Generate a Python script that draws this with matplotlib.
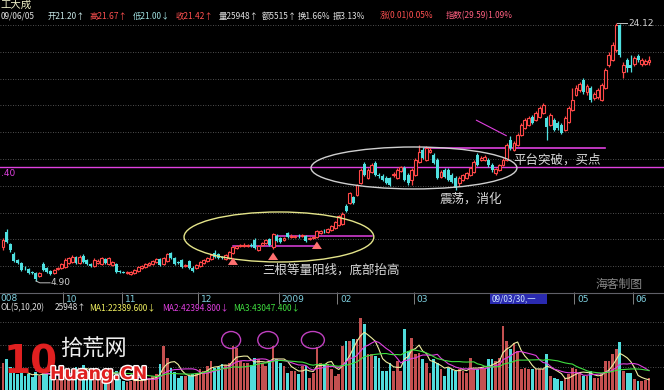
import numpy as np
import pandas as pd
import matplotlib
matplotlib.use("Agg")
import matplotlib.pyplot as plt
import matplotlib.patheffects as pe
from matplotlib.patches import Ellipse, Rectangle
from matplotlib.lines import Line2D

plt.rcParams['font.family'] = ['Noto Sans CJK SC', 'DejaVu Sans']

# daily bars, 2008/09 .. 2009/06/05
opens = [
    7.43, 8.55, 7.66, 6.91, 6.46, 6.24, 5.87, 5.79, 5.57, 5.49,
    5.27, 6.16, 5.87, 5.64, 5.49, 5.79, 5.87, 5.94, 6.24, 6.31,
    6.69, 6.24, 6.76, 6.46, 6.16, 6.02, 6.24, 6.16, 6.54, 6.16,
    6.09, 6.16, 5.64, 5.57, 5.49, 5.42, 5.49, 5.64, 5.87, 5.94,
    6.09, 6.16, 6.31, 6.54, 6.16, 6.39, 6.99, 6.61, 6.31, 6.46,
    6.02, 6.39, 5.87, 5.87, 6.02, 6.24, 6.39, 6.54, 6.99, 6.91,
    6.69, 6.54, 6.61, 6.99, 7.36, 7.51, 7.51, 7.51, 7.58, 7.96,
    7.21, 7.58, 7.73, 8.03, 7.43, 8.25, 8.10, 7.96, 8.48, 8.18,
    8.18, 8.25, 8.25, 8.25, 8.03, 8.10, 8.18, 8.48, 8.63, 8.55,
    8.70, 8.85, 9.08, 9.15, 10.49, 10.72, 11.17, 11.31, 12.21, 13.63,
    12.58, 13.03, 13.70, 12.81, 12.73, 12.58, 12.58, 12.81, 12.58, 13.10,
    13.33, 12.81, 12.43, 12.81, 13.78, 14.67, 13.93, 14.52, 14.30, 13.93,
    12.66, 13.18, 13.18, 12.81, 12.58, 12.21, 12.43, 12.58, 12.81, 13.03,
    14.30, 13.93, 13.93, 13.93, 13.55, 12.96, 13.18, 13.55, 13.93, 15.42,
    14.67, 15.04, 15.79, 16.31, 16.54, 17.13, 16.91, 17.13, 17.43, 17.06,
    16.54, 16.91, 16.69, 16.54, 16.16, 16.76, 17.66, 18.78, 19.15, 19.90,
    19.00, 19.30, 18.55, 18.63, 18.40, 19.30, 21.02, 21.39, 22.13, 24.00,
    20.49, 21.39, 21.02, 21.09, 21.69, 21.09, 21.09, 21.20]
closes = [
    7.96, 7.81, 7.21, 6.39, 6.24, 5.72, 5.84, 5.49, 5.49, 5.05,
    5.49, 5.72, 5.57, 5.42, 5.72, 5.87, 6.16, 6.46, 6.61, 6.69,
    6.24, 6.69, 6.31, 6.16, 6.02, 6.46, 6.39, 6.61, 6.24, 6.61,
    6.31, 5.57, 5.57, 5.53, 5.57, 5.57, 5.72, 5.94, 6.02, 6.16,
    6.24, 6.39, 6.54, 6.09, 6.61, 6.91, 6.61, 6.16, 6.24, 5.94,
    6.09, 5.87, 5.64, 6.09, 6.31, 6.46, 6.61, 6.84, 6.69, 6.61,
    6.61, 6.84, 7.06, 7.43, 7.51, 7.58, 7.58, 7.58, 7.51, 7.36,
    7.51, 7.73, 7.96, 7.58, 8.40, 7.88, 7.81, 8.10, 8.18, 8.25,
    8.25, 8.22, 8.33, 7.88, 8.10, 8.18, 8.63, 8.63, 8.59, 8.78,
    9.00, 9.30, 9.75, 9.90, 10.12, 11.46, 10.72, 12.06, 13.18, 12.81,
    13.18, 13.55, 12.81, 12.73, 12.43, 12.21, 12.06, 12.88, 13.18, 13.40,
    12.43, 12.21, 13.18, 13.93, 14.52, 14.07, 14.82, 14.67, 13.70, 12.58,
    13.03, 12.66, 12.43, 12.28, 11.84, 12.58, 12.81, 12.96, 13.33, 13.78,
    13.55, 14.07, 14.15, 13.55, 13.18, 13.25, 13.55, 13.93, 15.04, 14.82,
    15.19, 15.79, 16.54, 16.91, 17.06, 16.69, 17.43, 17.81, 18.03, 16.39,
    17.28, 16.16, 16.31, 15.94, 17.06, 17.81, 18.40, 19.30, 19.60, 19.00,
    19.45, 18.40, 18.85, 19.15, 19.52, 20.64, 21.76, 22.51, 24.00, 21.76,
    21.02, 20.79, 20.79, 21.54, 21.39, 21.39, 21.31, 21.42]
highs = [
    8.10, 8.78, 7.73, 7.06, 6.54, 6.31, 6.02, 5.87, 5.64, 5.57,
    5.57, 6.31, 5.94, 5.72, 5.79, 5.94, 6.24, 6.61, 6.69, 6.84,
    6.76, 6.84, 6.91, 6.54, 6.24, 6.61, 6.54, 6.69, 6.61, 6.69,
    6.39, 6.24, 5.72, 5.64, 5.64, 5.64, 5.79, 6.02, 6.09, 6.24,
    6.31, 6.46, 6.61, 6.61, 6.69, 6.99, 7.06, 6.69, 6.39, 6.54,
    6.16, 6.46, 6.02, 6.16, 6.39, 6.54, 6.69, 6.91, 7.21, 6.99,
    6.76, 6.91, 7.13, 7.51, 7.58, 7.66, 7.73, 7.66, 7.73, 8.10,
    7.58, 7.81, 8.03, 8.10, 8.48, 8.40, 8.18, 8.18, 8.55, 8.40,
    8.33, 8.40, 8.40, 8.33, 8.18, 8.25, 8.70, 8.70, 8.78, 8.85,
    9.08, 9.37, 9.82, 10.04, 10.64, 11.54, 11.24, 12.13, 13.33, 13.78,
    13.33, 13.70, 13.85, 12.96, 12.88, 12.73, 12.66, 13.03, 13.33, 13.48,
    13.48, 12.96, 13.33, 14.07, 15.04, 14.90, 14.97, 14.90, 14.45, 14.07,
    13.18, 13.33, 13.33, 12.96, 12.73, 12.73, 12.88, 13.03, 13.40, 13.93,
    14.45, 14.22, 14.30, 14.07, 13.70, 13.33, 13.63, 14.07, 15.19, 15.72,
    15.34, 15.94, 16.69, 17.06, 17.21, 17.28, 17.58, 17.96, 18.18, 17.21,
    17.43, 17.06, 16.84, 16.69, 17.21, 17.96, 19.30, 19.52, 19.75, 20.05,
    19.60, 19.45, 19.00, 19.30, 19.67, 20.79, 21.99, 22.73, 24.12, 24.05,
    21.24, 21.54, 21.76, 21.69, 21.84, 21.54, 21.46, 21.67]
lows = [
    7.21, 7.73, 7.06, 6.31, 6.16, 5.64, 5.72, 5.42, 5.42, 4.90,
    5.20, 5.64, 5.49, 5.34, 5.42, 5.72, 5.79, 5.87, 6.16, 6.24,
    6.16, 6.16, 6.24, 6.09, 5.94, 5.94, 6.16, 6.09, 6.16, 6.09,
    6.02, 5.49, 5.49, 5.49, 5.42, 5.34, 5.42, 5.57, 5.79, 5.87,
    6.02, 6.09, 6.24, 6.02, 6.09, 6.31, 6.54, 6.09, 6.16, 5.87,
    5.94, 5.79, 5.57, 5.79, 5.94, 6.16, 6.31, 6.46, 6.61, 6.54,
    6.54, 6.46, 6.54, 6.91, 7.28, 7.43, 7.43, 7.43, 7.43, 7.28,
    7.13, 7.51, 7.66, 7.51, 7.28, 7.81, 7.73, 7.88, 8.10, 8.10,
    8.10, 8.10, 8.18, 7.81, 7.96, 8.03, 8.10, 8.40, 8.48, 8.48,
    8.63, 8.78, 9.00, 9.08, 10.04, 10.64, 10.64, 11.24, 12.13, 12.73,
    12.51, 12.96, 12.73, 12.58, 12.36, 12.13, 11.99, 12.66, 12.51, 13.03,
    12.36, 12.06, 12.06, 12.73, 13.70, 14.00, 13.85, 14.45, 13.63, 12.51,
    12.58, 12.58, 12.36, 12.21, 11.69, 11.99, 12.36, 12.51, 12.73, 12.96,
    13.48, 13.85, 13.85, 13.40, 13.03, 12.81, 13.10, 13.48, 13.85, 14.67,
    14.60, 14.97, 15.72, 16.24, 16.46, 16.61, 16.84, 17.06, 17.36, 15.42,
    16.46, 16.09, 16.16, 15.87, 16.09, 16.69, 17.58, 18.70, 19.00, 18.85,
    18.78, 18.25, 18.40, 18.48, 18.33, 19.22, 20.87, 21.31, 21.99, 21.61,
    20.05, 20.49, 20.49, 20.94, 21.24, 20.94, 21.02, 21.00]
volumes = [
    60000, 68000, 50000, 45000, 35000, 40000, 30000, 35000, 28000, 40000,
    30000, 45000, 35000, 30000, 28000, 25000, 32000, 45000, 40000, 42000,
    50000, 48000, 55000, 40000, 30000, 38000, 32000, 36000, 40000, 38000,
    30000, 42000, 25000, 20000, 18000, 20000, 22000, 24000, 22000, 24000,
    26000, 30000, 35000, 57000, 97000, 70000, 48000, 40000, 26000, 31000,
    30000, 31000, 35000, 37000, 46000, 42000, 53000, 64000, 48000, 50000,
    57000, 55000, 60000, 97000, 92000, 64000, 60000, 59000, 55000, 70000,
    68000, 60000, 53000, 64000, 97000, 68000, 59000, 53000, 37000, 42000,
    42000, 35000, 53000, 53000, 26000, 37000, 95000, 59000, 57000, 57000,
    46000, 30000, 35000, 97000, 108000, 108000, 112000, 112000, 158000, 145000,
    79000, 79000, 75000, 70000, 42000, 42000, 59000, 42000, 64000, 42000,
    134000, 86000, 114000, 79000, 81000, 68000, 59000, 37000, 68000, 59000,
    46000, 31000, 48000, 46000, 42000, 46000, 42000, 37000, 70000, 46000,
    46000, 48000, 46000, 68000, 68000, 64000, 70000, 141000, 108000, 90000,
    103000, 86000, 46000, 48000, 46000, 46000, 46000, 46000, 46000, 79000,
    31000, 26000, 24000, 20000, 26000, 35000, 48000, 46000, 37000, 31000,
    31000, 42000, 26000, 26000, 37000, 64000, 64000, 79000, 90000, 106000,
    42000, 37000, 37000, 24000, 20000, 20000, 22000, 25948]

month_start = [17, 33, 54, 76, 92, 113, 157, 173]
month_labels = ['10', '11', '12', '2009', '02', '03', '05', '06']
platform_price = 13.40
breakout_price = 14.82
bottom_levels = [7.51, 8.25]
arrow_days = [63, 74, 86]

W, H = 664, 390
RED, CYAN, MAG = '#ff4848', '#4fe0e0', '#e040e0'


def fx(x):
    return x / W


def fy(y):
    return 1 - y / H


o = np.array(opens)
c = np.array(closes)
hi = np.array(highs)
lo = np.array(lows)
vol = np.array(volumes, dtype=float)
idx = np.arange(len(c))
up = c >= o
XL = (-0.82, 181.1)

fig = plt.figure(figsize=(6.64, 3.90), dpi=100, facecolor='black')

# ---- price panel
ax = fig.add_axes([0, fy(291), 1, (291 - 20) / H])
ax.set_facecolor('black')
ax.set_xlim(*XL)
ax.set_ylim(4.15, 24.37)
ax.axis('off')
for p in range(6, 25, 2):
    ax.axhline(p, color='#6a6a6a', lw=0.6, ls=(0, (1, 2)), zorder=0)

ax.vlines(idx, lo, hi, colors=np.where(up, RED, CYAN), lw=0.9, zorder=2)
bot = np.minimum(o, c)
hgt = np.maximum(np.abs(c - o), 0.05)
ax.bar(idx[up], hgt[up], bottom=bot[up], width=0.8, facecolor='black',
       edgecolor=RED, lw=0.8, zorder=3)
ax.bar(idx[~up], hgt[~up], bottom=bot[~up], width=0.8, color=CYAN, zorder=3)

ax.add_patch(Ellipse((75.6, 8.18), 52, 3.73, fill=False, ec='#e4e48a', lw=1.0, zorder=4))
ax.add_patch(Ellipse((112.6, 13.33), 56.4, 3.13, fill=False, ec='#cfcfcf', lw=1.0, zorder=4))
ax.axhline(platform_price, color=MAG, lw=1.0, zorder=1)
ax.plot([115.6, 165], [breakout_price] * 2, color=MAG, lw=1.2, zorder=1)
ax.annotate('', xy=(138.6, 15.64), xytext=(129, 16.99),
            arrowprops=dict(arrowstyle='-', color=MAG, lw=0.8))
ax.plot([63, 86.3], [bottom_levels[0]] * 2, color=MAG, lw=1.1, zorder=1)
ax.plot([74, 101], [bottom_levels[1]] * 2, color=MAG, lw=1.1, zorder=1)
for d in arrow_days:
    ax.annotate('', xy=(d, lo[d] - 0.05), xytext=(d, lo[d] - 0.85),
                arrowprops=dict(arrowstyle='simple,head_width=0.8,head_length=0.6,tail_width=0.35',
                                color='#ff7070', lw=0, mutation_scale=9), zorder=5)

txt = dict(color='#d8d8d8', fontsize=9, va='center', ha='left')
ax.text(71, 5.72, '三根等量阳线，底部抬高', **txt)
ax.text(119.7, 11.01, '震荡，消化', **txt)
ax.text(139.7, 13.93, '平台突破，买点', **txt)

imax, imin = int(np.argmax(hi)), int(np.argmin(lo))
ax.plot([imax + 0.2, imax + 3], [hi[imax]] * 2, color='#c0c0c0', lw=0.7)
ax.text(imax + 3.2, hi[imax], '%.2f' % hi[imax], color='#d0d0d0', fontsize=6.5,
        va='center', family='DejaVu Sans')
ax.plot([imin, imin + 1.1, imin + 3.9], [lo[imin], lo[imin] - 0.14, lo[imin] - 0.14],
        color='#c0c0c0', lw=0.7)
ax.text(imin + 4.1, lo[imin] - 0.14, '%.2f' % lo[imin], color='#d0d0d0', fontsize=6.5,
        va='center', family='DejaVu Sans')

# left edge labels show only the visible part, as in the source screenshot
fig.text(fx(0.5), fy(173), ('%.2f' % platform_price)[2:], ha='left', va='center', color=MAG,
         fontsize=6.5, family='DejaVu Sans')
fig.text(fx(595), fy(284), '海客制图', color='#8a8a8a', fontsize=8.5, va='center')

# ---- date row
axd = fig.add_axes([0, fy(305), 1, 13 / H])
axd.set_facecolor('black')
axd.set_xlim(*XL)
axd.set_ylim(0, 1)
axd.axis('off')
fig.add_artist(Line2D([0, 1], [fy(292.5)] * 2, transform=fig.transFigure, color='#606068', lw=0.8))
fig.text(fx(0.5), fy(298.5), '008', color='#7fd0e0', fontsize=6.5, va='center', family='DejaVu Sans')
for m, lab in zip(month_start, month_labels):
    axd.vlines(m - 0.5, 0.1, 1.0, color='#808080', lw=0.7)
    axd.text(m + 0.3, 0.45, lab, color='#7fd0e0', fontsize=6.5, va='center', family='DejaVu Sans')
axd.add_patch(Rectangle((fx(490), fy(304)), fx(57), 11 / H, transform=fig.transFigure,
                        facecolor='#2a2ab0', edgecolor='none', zorder=5))
fig.text(fx(492), fy(298.5), '09/03/30,一', color='#d0e8ff', fontsize=6, va='center', zorder=6)

# ---- volume panel
axv = fig.add_axes([0, 0, 1, 80 / H])
axv.set_facecolor('black')
axv.set_xlim(*XL)
axv.set_ylim(0, 176000)
axv.axis('off')
for g in (50000, 100000, 150000):
    axv.axhline(g, color='#6a6a6a', lw=0.6, ls=(0, (1, 2)), zorder=0)
axv.bar(idx, vol, width=0.75, color=np.where(up, '#c45050', '#50dcdc'), zorder=2)
vs = pd.Series(vol)
for win, col in ((5, '#eeeea0'), (10, MAG), (20, '#40e040')):
    axv.plot(idx, vs.rolling(win).mean(), color=col, lw=0.8, zorder=3)
for cx, w in ((62.5, 5.2), (72.6, 5.6), (84.9, 6.3)):
    axv.add_patch(Ellipse((cx, 110000), w, 37400, fill=False, ec='#c040c0', lw=1.0, zorder=4))

# ---- header texts
hdr = [(0.5, 4.5, '工大成', '#f0f0c8', 7.5)]
for x, s, col in [(0.5, '09/06/05', '#e0e0e0'), (48, '开21.20↑', '#c8e8e8'),
                  (89, '高21.67↑', '#ff5050'), (133, '低21.00↓', '#a0e0e0'),
                  (176, '收21.42↑', '#ff5050'), (219, '量25948↑', '#e0e0e0'),
                  (262, '额5515↑', '#e0e0e0'), (298, '换1.66%', '#e0e0e0'),
                  (333, '振3.13%', '#e0e0e0'), (380, '涨(0.01)0.05%', '#ff5050'),
                  (446, '指数(29.59)1.09%', '#ff6080')]:
    hdr.append((x, 16, s, col, 6))
vol_last = vs.iloc[-1]
ma = [vs.rolling(w).mean().iloc[-1] for w in (5, 10, 20)]
for x, s, col in [(0.5, 'OL(5,10,20)', '#e0e0e0'), (55, '%d↑' % vol_last, '#e0e0e0'),
                  (89, 'MA1:%.3f↓' % ma[0], '#f0f060'), (162, 'MA2:%.3f↓' % ma[1], '#e040e0'),
                  (233, 'MA3:%.3f↓' % ma[2], '#40e040')]:
    hdr.append((x, 307.5, s, col, 6))
for x, y, s, col, fs in hdr:
    fig.text(fx(x), fy(y), s, color=col, fontsize=fs, va='center')

# ---- watermark
fig.text(fx(4), fy(363), '10', color='#e02020', fontsize=28, fontweight='bold',
         va='center', family='DejaVu Sans', zorder=10)
fig.text(fx(60), fy(349), '拾荒网', color='#eeeeee', fontsize=16, va='center', zorder=10)
fig.text(fx(50), fy(374), 'Huang.CN', color='#e02020', fontsize=12.5, fontweight='bold',
         va='center', family='DejaVu Sans', zorder=10,
         path_effects=[pe.withStroke(linewidth=2, foreground='white')])

fig.savefig('out.png', dpi=100, facecolor='black')
